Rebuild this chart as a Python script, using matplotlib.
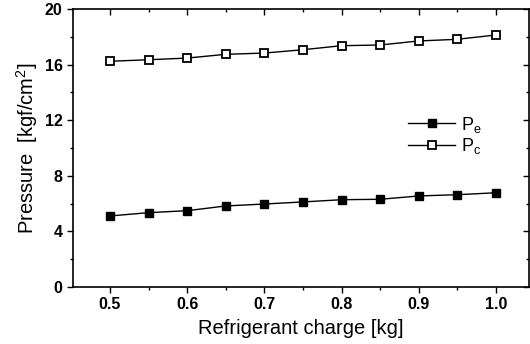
import matplotlib
matplotlib.use("Agg")
import matplotlib.pyplot as plt
from matplotlib.ticker import MultipleLocator

plt.rcParams['font.family'] = ['Liberation Sans', 'DejaVu Sans']
plt.rcParams['mathtext.fontset'] = 'custom'
plt.rcParams['mathtext.rm'] = 'Liberation Sans'
plt.rcParams['mathtext.it'] = 'Liberation Sans'

charge = [0.50, 0.55, 0.60, 0.65, 0.70, 0.75, 0.80, 0.85, 0.90, 0.95, 1.00]
p_evap = [5.11, 5.35, 5.49, 5.83, 5.97, 6.12, 6.28, 6.31, 6.55, 6.64, 6.78]
p_cond = [16.24, 16.35, 16.47, 16.74, 16.83, 17.07, 17.36, 17.41, 17.70, 17.82, 18.13]

x_ticks = [0.5, 0.6, 0.7, 0.8, 0.9, 1.0]
y_ticks = [0, 4, 8, 12, 16, 20]


def main() -> None:
    fig = plt.figure(figsize=(5.30, 3.44), dpi=100)
    ax = fig.add_axes([73 / 530, 57 / 344, 456 / 530, 278 / 344])

    ax.plot(charge, p_evap, color='black', lw=1.0, marker='s', ms=6,
            mfc='black', mec='black', label='P$_\\mathregular{e}$')
    ax.plot(charge, p_cond, color='black', lw=1.0, marker='s', ms=5.5,
            mfc='white', mec='black', mew=1.3, label='P$_\\mathregular{c}$')

    ax.set_xlim(0.452, 1.043)
    ax.set_ylim(0, 20)
    ax.set_xticks(x_ticks)
    ax.set_xticklabels([f"{v:.1f}" for v in x_ticks], fontweight='bold')
    ax.set_yticks(y_ticks)
    ax.set_yticklabels([str(v) for v in y_ticks], fontweight='bold')
    ax.xaxis.set_minor_locator(MultipleLocator(0.05))
    ax.yaxis.set_minor_locator(MultipleLocator(2))

    for s in ax.spines.values():
        s.set_linewidth(1.2)

    ax.tick_params(which='both', direction='out', top=True, right=True,
                   labelsize=11.5, width=1.0)
    ax.tick_params(which='major', length=4)
    ax.tick_params(which='minor', length=2.5)
    # mirrored ticks point inward
    for t in ax.xaxis.get_ticklines(minor=False)[1::2] + ax.xaxis.get_ticklines(minor=True)[1::2]:
        t.set_marker(3)
    for t in ax.yaxis.get_ticklines(minor=False)[1::2] + ax.yaxis.get_ticklines(minor=True)[1::2]:
        t.set_marker(0)

    ax.set_xlabel('Refrigerant charge [kg]', fontsize=14.5, labelpad=5)
    ax.set_ylabel('Pressure  [kgf/cm$^\\mathregular{2}$]', fontsize=14.5, labelpad=3)

    ax.legend(loc='center left', bbox_to_anchor=(0.70, 0.545), frameon=False,
              fontsize=13, handlelength=2.6, handletextpad=0.3, labelspacing=0.1)

    fig.savefig('out.png', dpi=100)


if __name__ == "__main__":
    main()
